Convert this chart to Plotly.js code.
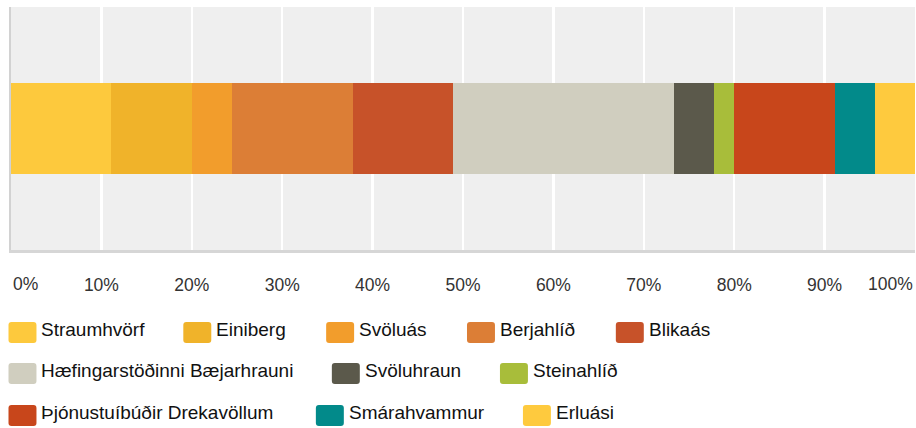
<!DOCTYPE html>
<html>
<head>
<meta charset="utf-8">
<script src="https://cdn.plot.ly/plotly-3.0.1.min.js"></script>
<style>html,body{margin:0;padding:0;background:#fff;}#chart{width:916px;height:428px;}</style>
</head>
<body>
<div id="chart"></div>
<script>
// ---- data ----
var categories = ["Straumhvörf","Einiberg","Svöluás","Berjahlíð","Blikaás",
  "Hæfingarstöðinni Bæjarhrauni","Svöluhraun","Steinahlíð",
  "Þjónustuíbúðir Drekavöllum","Smárahvammur","Erluási"];
var counts = [5, 4, 2, 6, 5, 11, 2, 1, 5, 2, 2];
var tickValues = [0,10,20,30,40,50,60,70,80,90,100];
var tickLabels = ["0%","10%","20%","30%","40%","50%","60%","70%","80%","90%","100%"];

// ---- styles ----
var colors = ["#FDC93D","#F0B32A","#F29D2C","#DC7E36","#C75229",
  "#D0CEBF","#5B594B","#A8BD3A","#C8461B","#028A8A","#FECA3E"];
var FONT = 'Arial';

// layout geometry (pixels)
var W = 916, H = 428;
var plotL = 10.5, plotR = 915.5, plotT = 7, plotB = 250;
var legendRows = [[0,1,2,3,4],[5,6,7],[8,9,10]];
var legendRowX = [[8,183,326,467,616],[8,331.7,500],[8,315.7,523]];
var legendRowTop = [322,363,405];
var swW = 28, swH = 21, swR = 3, textOff = 31;

function px2x(p){ return (p - plotL) / (plotR - plotL); }
function px2y(p){ return (plotB - p) / (plotB - plotT); }

var total = counts.reduce(function(a,b){return a+b;},0);
var traces = categories.map(function(name,i){
  return {
    type:'bar', orientation:'h', name:name,
    x:[counts[i] / total * 100], y:['r'],
    marker:{color:colors[i], line:{width:0}},
    hoverinfo:'skip', showlegend:false
  };
});

var shapes = [], annotations = [];
legendRows.forEach(function(row, r){
  row.forEach(function(idx, k){
    var x0 = legendRowX[r][k], y0 = legendRowTop[r];
    var x1 = x0 + swW, y1 = y0 + swH;
    var rx = swR;
    var P = function(a,b){ return px2x(a) + ',' + px2y(b); };
    var path = 'M' + P(x0+rx,y0) + ' L' + P(x1-rx,y0) + ' Q' + P(x1,y0) + ' ' + P(x1,y0+rx) +
      ' L' + P(x1,y1-rx) + ' Q' + P(x1,y1) + ' ' + P(x1-rx,y1) +
      ' L' + P(x0+rx,y1) + ' Q' + P(x0,y1) + ' ' + P(x0,y1-rx) +
      ' L' + P(x0,y0+rx) + ' Q' + P(x0,y0) + ' ' + P(x0+rx,y0) + ' Z';
    shapes.push({type:'path', xref:'paper', yref:'paper', path:path,
      fillcolor:colors[idx], line:{width:0}});
    annotations.push({xref:'paper', yref:'paper', x:px2x(x0+textOff), y:px2y(y0+swH/2-3),
      xanchor:'left', yanchor:'middle', showarrow:false, text:categories[idx],
      font:{family:FONT, size:19, color:'#111111'}});
  });
});

// edge tick labels aligned inside the plot
annotations.push({xref:'x', yref:'paper', x:tickValues[0], y:px2y(284), xanchor:'left', yanchor:'middle',
  showarrow:false, text:tickLabels[0], font:{family:FONT, size:17.5, color:'#333'}});
annotations.push({xref:'x', yref:'paper', x:tickValues[tickValues.length-1], y:px2y(284), xanchor:'right', yanchor:'middle',
  showarrow:false, text:tickLabels[tickLabels.length-1], font:{family:FONT, size:17.5, color:'#333'}});

var layout = {
  width:W, height:H,
  margin:{l:plotL, r:W-plotR, t:plotT, b:H-plotB, pad:0},
  paper_bgcolor:'#ffffff', plot_bgcolor:'#efefef',
  barmode:'stack', bargap:0.625,
  showlegend:false,
  xaxis:{range:[0,100], fixedrange:true,
    tickmode:'array', tickvals:tickValues.slice(1,-1), ticktext:tickLabels.slice(1,-1),
    showgrid:true, gridcolor:'#ffffff', gridwidth:2.5,
    zeroline:false, showline:true, linecolor:'#d6d6d6', linewidth:2.5,
    ticks:'', ticklabelstandoff:17,
    tickfont:{family:FONT, size:17.5, color:'#333'}},
  yaxis:{range:[-0.5,0.5], fixedrange:true, showticklabels:false, showgrid:false,
    zeroline:false, showline:true, linecolor:'#d2d2d2', linewidth:2.5, ticks:''},
  shapes:shapes, annotations:annotations
};

Plotly.newPlot('chart', traces, layout, {displayModeBar:false, staticPlot:true});
</script>
</body>
</html>
